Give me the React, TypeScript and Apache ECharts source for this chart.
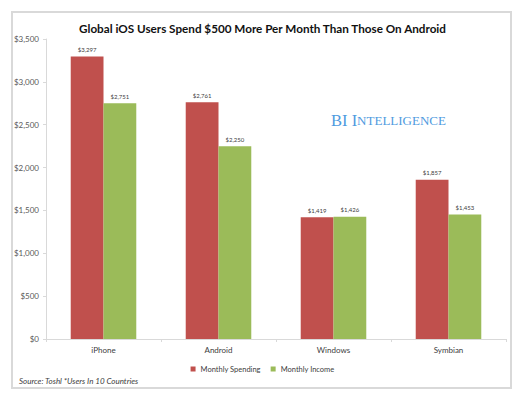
import React, { useEffect, useRef } from "react";
import * as echarts from "echarts";

const categories = ["iPhone", "Android", "Windows", "Symbian"];
const spending = [3297, 2761, 1419, 1857];
const income = [2751, 2250, 1426, 1453];
const seriesNames = ["Monthly Spending", "Monthly Income"];
const titleText = "Global iOS Users Spend $500 More Per Month Than Those On Android";
const sourceText = "Source: Toshl *Users In 10 Countries";

const fmt = (v: number) => "$" + v.toLocaleString("en-US");

export default function App() {
  const ref = useRef<HTMLDivElement>(null);
  useEffect(() => {
    const chart = echarts.init(ref.current!, null, { renderer: "svg" });
    const font = "Lato, 'Open Sans', sans-serif";
    chart.setOption({
      animation: false,
      backgroundColor: "#ffffff",
      textStyle: { fontFamily: font },
      title: {
        text: titleText,
        left: "center",
        top: 17,
        textStyle: { fontSize: 11.7, fontWeight: "bold", color: "#111", fontFamily: font },
      },
      legend: {
        data: seriesNames,
        bottom: 22,
        left: "center",
        itemWidth: 5,
        itemHeight: 5,
        itemGap: 10,
        icon: "rect",
        textStyle: { fontSize: 7.5, color: "#404040", fontFamily: font },
      },
      grid: { left: 46, right: 19, top: 39, bottom: 61, containLabel: false },
      xAxis: {
        type: "category",
        data: categories,
        axisLine: { lineStyle: { color: "#d9d9d9" } },
        axisTick: { show: true, lineStyle: { color: "#d9d9d9" }, length: 3 },
        axisLabel: { fontSize: 8, color: "#404040", margin: 7 },
      },
      yAxis: {
        type: "value",
        min: 0,
        max: 3500,
        interval: 500,
        splitLine: { show: false },
        axisLine: { show: true, lineStyle: { color: "#d9d9d9" } },
        axisTick: { show: true, lineStyle: { color: "#d9d9d9" }, length: 3 },
        axisLabel: { fontSize: 8, color: "#595959", margin: 7, formatter: (v: number) => fmt(v) },
      },
      series: [
        {
          name: seriesNames[0],
          type: "bar",
          data: spending,
          barGap: "0%",
          barCategoryGap: "43%",
          itemStyle: { color: "#c0504d" },
          label: { show: true, position: "top", fontSize: 6, color: "#404040", distance: 4, formatter: (p: any) => fmt(p.value) },
        },
        {
          name: seriesNames[1],
          type: "bar",
          data: income,
          barGap: "0%",
          barCategoryGap: "43%",
          itemStyle: { color: "#9bbb59" },
          label: { show: true, position: "top", fontSize: 6, color: "#404040", distance: 4, formatter: (p: any) => fmt(p.value) },
        },
      ],
      graphic: [
        {
          type: "rect",
          shape: { x: 12, y: 12, width: 499, height: 376 },
          style: { fill: "none", stroke: "#d9d9d9", lineWidth: 2 },
          silent: true,
          z: -1,
        },
        {
          type: "text",
          left: 331,
          top: 112,
          style: {
            text: "{a|BI I}{b|NTELLIGENCE}",
            fill: "#4f9be0",
            rich: {
              a: { fontSize: 16.5, fontFamily: "'Liberation Serif', serif", fill: "#4f9be0", color: "#4f9be0" },
              b: { fontSize: 13, fontFamily: "'Liberation Serif', serif", fill: "#4f9be0", color: "#4f9be0" },
            },
          },
        },
        {
          type: "text",
          left: 19,
          top: 377,
          style: {
            text: sourceText,
            font: "italic 8px Lato, 'Open Sans', sans-serif",
            fill: "#404040",
          },
        },
      ],
    });
    return () => chart.dispose();
  }, []);
  return <div ref={ref} style={{ position: "fixed", left: 0, top: 0, width: 525, height: 400 }} />;
}
